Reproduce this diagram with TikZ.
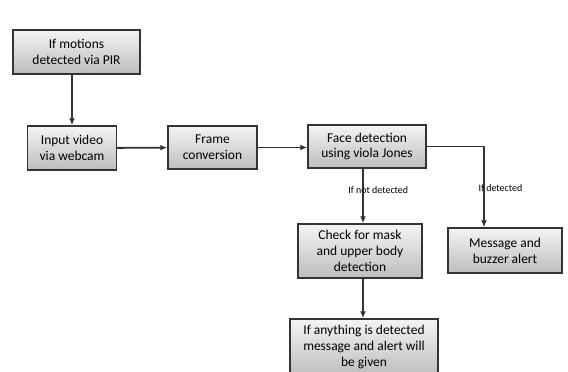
\documentclass[tikz,border=0pt]{standalone}
\usepackage{fontspec}
\setmainfont{Carlito}
\usetikzlibrary{arrows.meta,positioning,calc}
\definecolor{fcline}{HTML}{333333}
\definecolor{fctop}{HTML}{F4F4F4}
\definecolor{fcbot}{HTML}{BDBDBD}

\begin{document}
\begin{tikzpicture}[x=0.03cm,y=-0.03cm,
 stepbox/.style={draw=fcline,line width=1.2pt,top color=fctop,bottom color=fcbot,
  align=center,inner sep=1pt,font=\fontsize{11.5}{13.5}\selectfont},
 link/.style={draw=fcline,line width=1.6pt,-{Latex[length=6pt,width=5pt]}},
 cond/.style={font=\fontsize{8.5}{9}\selectfont,inner sep=1pt}]
\useasboundingbox (0,0) rectangle (568,372);
\node[stepbox,minimum width=127*0.03cm,minimum height=44*0.03cm] (pir) at (76.5,52)
 {If motions\\detected via PIR};
\node[stepbox,minimum width=89*0.03cm,minimum height=44*0.03cm] (cam) at (72,148)
 {Input video\\via webcam};
\node[stepbox,minimum width=89*0.03cm,minimum height=43*0.03cm] (frame) at (212.5,147.5)
 {Frame\\conversion};
\node[stepbox,minimum width=118*0.03cm,minimum height=43*0.03cm] (face) at (367,146.5)
 {Face detection\\using viola Jones};
\node[stepbox,minimum width=124*0.03cm,minimum height=54*0.03cm] (mask) at (360,251)
 {Check for mask\\and upper body\\detection};
\node[stepbox,minimum width=114*0.03cm,minimum height=45*0.03cm] (buzz) at (505,250.5)
 {Message and\\buzzer alert};
\node[stepbox,minimum width=148*0.03cm,minimum height=56*0.03cm] (alert) at (364,347)
 {If anything is detected\\message and alert will\\be given};
\coordinate (turn) at ($(buzz.north)+(-21,0)$);
\coordinate (drop) at ($(face.south)+(-4,0)$);
% arrows between the steps
\draw[link] (pir.south -| cam.north) -- (cam.north);
\draw[link] (cam) -- (frame);
\draw[link] (frame) -- (face.west |- frame);
\draw[link] (drop) -- node[cond,pos=0.4,xshift=13pt] {If not detected} (drop |- mask.north);
\draw[link] (face.east) -| node[cond,pos=0.76,xshift=14pt] {If detected} (turn);
\draw[link] (drop |- mask.south) -- (drop |- alert.north);
\end{tikzpicture}
\end{document}
